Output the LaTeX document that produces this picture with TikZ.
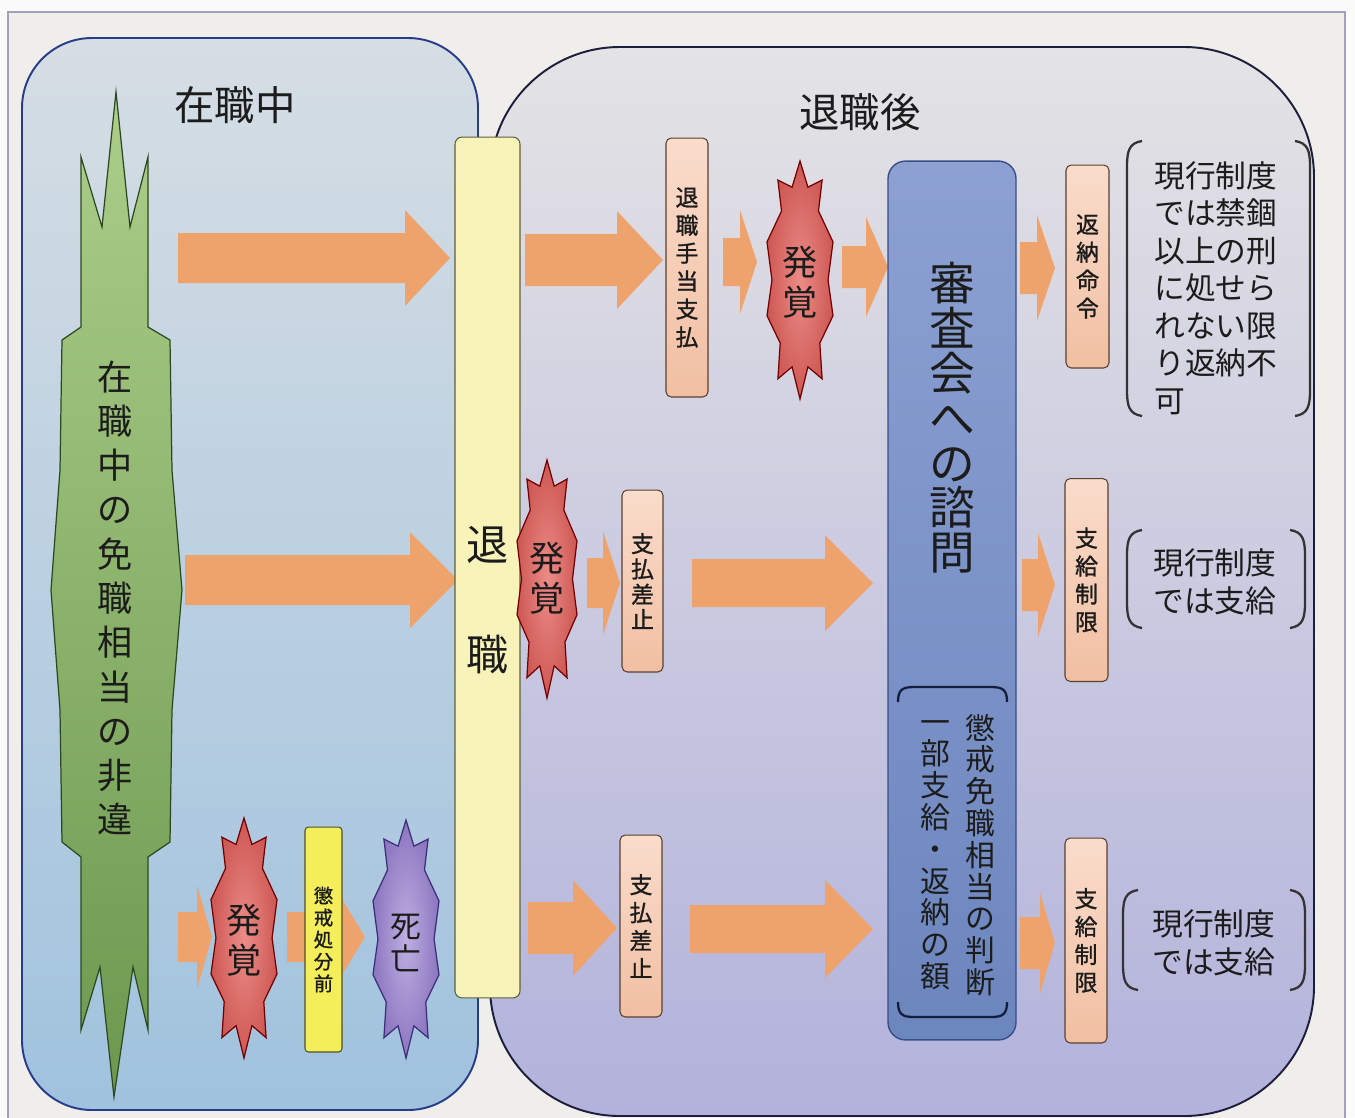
\documentclass[tikz,border=0pt]{standalone}
\usepackage{fontspec}
\setmainfont{Noto Sans CJK JP}
\newfontfamily\jpb[FakeBold=1.2]{Noto Sans CJK JP}
\definecolor{ink}{HTML}{1C1C1C}
\definecolor{paper}{HTML}{F0EEEA}
\definecolor{framec}{HTML}{A59FBF}
\definecolor{arrowc}{HTML}{EFA36C}
\definecolor{peachT}{HTML}{FADCCB}
\definecolor{peachB}{HTML}{F1BFA2}
\definecolor{peachD}{HTML}{5A4030}
\newcommand\fs[2]{\fontsize{#1}{#2}\selectfont}
% block arrow: x1, x2 (tip), yc, shaft half, head half, head start
\newcommand\blockarr[6]{%
  \fill[arrowc] (#1,#3-#4) -- (#6,#3-#4) -- (#6,#3-#5) -- (#2,#3) -- (#6,#3+#5) -- (#6,#3+#4) -- (#1,#3+#4) -- cycle;}
% burst: cx, cy, half width, half height, style
\newcommand\burstshape[5]{%
  \begin{scope}[shift={(#1,#2)},xscale=#3,yscale=#4]
  \path[#5] (0,-1) -- (0.24,-0.78) -- (0.67,-0.84) -- (0.56,-0.58) -- (1,-0.32) -- (0.85,0) -- (1,0.3) -- (0.6,0.53) -- (0.67,0.83) -- (0.24,0.73) -- (0,1) -- (-0.24,0.73) -- (-0.67,0.83) -- (-0.6,0.53) -- (-1,0.3) -- (-0.85,0) -- (-1,-0.32) -- (-0.56,-0.58) -- (-0.67,-0.84) -- (-0.24,-0.78) -- cycle;
  \end{scope}}
% parentheses: x1, x2, y1, y2
\newcommand\parens[4]{%
  \draw[brk] (#1+15,#3) .. controls (#1+2,#3+2) and (#1,#3+10) .. (#1,#3+26) -- (#1,#4-26) .. controls (#1,#4-10) and (#1+2,#4-2) .. (#1+15,#4);
  \draw[brk] (#2-15,#3) .. controls (#2-2,#3+2) and (#2,#3+10) .. (#2,#3+26) -- (#2,#4-26) .. controls (#2,#4-10) and (#2-2,#4-2) .. (#2-15,#4);}
\begin{document}
\begin{tikzpicture}[x=0.02cm,y=-0.02cm,
  vt/.style={align=center,inner sep=0pt,text=ink},
  lt/.style={align=left,inner sep=0pt,text=ink},
  peachbox/.style={draw=peachD,line width=0.6pt,rounded corners=3pt,top color=peachT,bottom color=peachB,inner sep=0pt,align=center,text=ink},
  brk/.style={draw=ink!90,line width=1.3pt},
  redburst/.style={draw=red!45!black,line width=0.7pt,inner color={rgb,255:red,236;green,140;blue,135},outer color={rgb,255:red,205;green,88;blue,84}},
  purpleburst/.style={draw={rgb,255:red,60;green,45;blue,120},line width=0.7pt,inner color={rgb,255:red,190;green,175;blue,225},outer color={rgb,255:red,140;green,118;blue,192}}
]
\useasboundingbox (0,0) rectangle (1355,1117);
\clip (0,0) rectangle (1355,1117);
\fill[white!97!gray] (0,0) rectangle (1355,1117);
% outer frame
\draw[framec,line width=1.6pt,fill=paper] (8,12) rectangle (1345,1140);

% containers
\draw[rounded corners=130*0.02cm,line width=1.1pt,draw={rgb,255:red,30;green,30;blue,60},top color={rgb,255:red,228;green,227;blue,229},bottom color={rgb,255:red,178;green,178;blue,220}] (490,47) rectangle (1314,1116);
\draw[rounded corners=70*0.02cm,line width=1.1pt,draw={rgb,255:red,40;green,60;blue,140},top color={rgb,255:red,214;green,222;blue,228},bottom color={rgb,255:red,160;green,194;blue,222}] (22,38) rectangle (478,1110);

\node[vt,font=\fs{23}{28}] (zaishokuchu) at (235,105) {在職中};
\node[vt,font=\fs{23}{28}] (taishokugo) at (860,112) {退職後};

% green shape
\draw[draw={rgb,255:red,45;green,72;blue,32},line width=0.7pt,top color={rgb,255:red,172;green,206;blue,138},bottom color={rgb,255:red,108;green,152;blue,78}]
 (116,92) -- (130,227) -- (148,157) -- (148,327) -- (170,340) -- (172,470) -- (182,590) -- (172,710) -- (170,842) -- (148,857) -- (148,1030) -- (133,967) -- (114,1097) -- (100,967) -- (81,1030) -- (81,857) -- (62,842) -- (60,710) -- (51,590) -- (60,470) -- (62,340) -- (81,327) -- (81,157) -- (102,227) -- cycle;
\node[vt,font=\fs{20}{25.2}] (hii) at (115,598) {在\\職\\中\\の\\免\\職\\相\\当\\の\\非\\違};

% arrows
\blockarr{178}{450}{258}{25}{48}{405}
\blockarr{185}{458}{580}{25}{48}{410}
\blockarr{178}{212}{937}{25}{52}{197}
\blockarr{287}{365}{937}{25}{46}{337}
\blockarr{525}{663}{260}{26}{49}{617}
\blockarr{723}{757}{262}{24}{52}{740}
\blockarr{842}{888}{267}{21}{50}{866}
\blockarr{1020}{1055}{268}{26}{53}{1037}
\blockarr{587}{620}{583}{25}{52}{603}
\blockarr{692}{873}{583}{24}{48}{825}
\blockarr{1022}{1055}{585}{26}{52}{1038}
\blockarr{528}{617}{928}{26}{48}{573}
\blockarr{690}{873}{929}{24}{49}{825}
\blockarr{1020}{1055}{943}{26}{50}{1040}

% retirement bar
\node[draw={rgb,255:red,95;green,95;blue,60},line width=0.6pt,rounded corners=4pt,fill={rgb,255:red,247;green,243;blue,185},minimum width=1.30cm,minimum height=17.22cm,inner sep=0pt] (bar) at (487.5,567.5) {};
\node[vt,font=\fs{24}{62.4}] (taishoku) at (488,600) {退\\職};

% blue box
\node[draw={rgb,255:red,55;green,78;blue,135},line width=0.8pt,rounded corners=10pt,top color={rgb,255:red,140;green,160;blue,210},bottom color={rgb,255:red,108;green,134;blue,190},minimum width=2.56cm,minimum height=17.58cm,inner sep=0pt] (shinsa) at (952,600.5) {};
\node[vt,font=\fs{26}{25.5}] (shinsatext) at (952,418) {審\\査\\会\\へ\\の\\諮\\問};
\draw[brk,draw={rgb,255:red,20;green,30;blue,60}] (898,702) .. controls (898,690) and (902,687) .. (914,687) -- (991,687) .. controls (1003,687) and (1007,690) .. (1007,702);
\draw[brk,draw={rgb,255:red,20;green,30;blue,60}] (898,1002) .. controls (898,1014) and (902,1017) .. (914,1017) -- (991,1017) .. controls (1003,1017) and (1007,1014) .. (1007,1002);
\node[vt,font=\fs{17}{18.1}] (handan) at (980,855) {懲\\戒\\免\\職\\相\\当\\の\\判\\断};
\node[vt,font=\fs{17}{18.1}] (gaku) at (935,855) {一\\部\\支\\給\\・\\返\\納\\の\\額};

% peach boxes
\node[peachbox,font=\jpb\fs{13}{15.9},minimum width=0.84cm,minimum height=5.18cm] (shiharai) at (687,267.5) {退\\職\\手\\当\\支\\払};
\node[peachbox,font=\jpb\fs{13}{15.9},minimum width=0.86cm,minimum height=4.06cm] (hennou) at (1087.5,266.5) {返\\納\\命\\令};
\node[peachbox,font=\jpb\fs{13}{14.4},minimum width=0.82cm,minimum height=3.64cm] (sashitome1) at (642.5,581) {支\\払\\差\\止};
\node[peachbox,font=\jpb\fs{13}{15.9},minimum width=0.86cm,minimum height=4.06cm] (seigen1) at (1086.5,580) {支\\給\\制\\限};
\node[peachbox,font=\jpb\fs{13}{15.9},minimum width=0.84cm,minimum height=3.64cm] (sashitome2) at (641,926) {支\\払\\差\\止};
\node[peachbox,font=\jpb\fs{13}{15.9},minimum width=0.84cm,minimum height=4.10cm] (seigen2) at (1086,940.5) {支\\給\\制\\限};
\node[draw={rgb,255:red,80;green,80;blue,40},line width=0.6pt,rounded corners=2pt,fill={rgb,255:red,243;green,238;blue,90},minimum width=0.74cm,minimum height=4.5cm,inner sep=0pt,align=center,text=ink,font=\jpb\fs{11}{12.5}] (choukaimae) at (323.5,939.5) {懲\\戒\\処\\分\\前};

% bursts
\burstshape{800}{280}{33}{119}{redburst}
\node[vt,font=\fs{20}{22.7}] (hakkaku1) at (800,282) {発\\覚};
\burstshape{547}{579}{30}{119}{redburst}
\node[vt,font=\fs{20}{22.7}] (hakkaku2) at (547,578) {発\\覚};
\burstshape{244}{938}{33}{120}{redburst}
\node[vt,font=\fs{20}{22.7}] (hakkaku3) at (244,940) {発\\覚};
\burstshape{406}{939}{33}{119}{purpleburst}
\node[vt,font=\fs{17.5}{18.7}] (shibou) at (406,943) {死\\亡};

% right notes
\parens{1127}{1310}{141}{416}
\node[lt,font=\fs{17.5}{21.3},anchor=west] (note1) at (1154,288) {現行制度\\では禁錮\\以上の刑\\に処せら\\れない限\\り返納不\\可};
\parens{1127}{1305}{530}{628}
\node[lt,font=\fs{17.5}{21.3},anchor=west] (note2) at (1153,582) {現行制度\\では支給};
\parens{1123}{1305}{890}{990}
\node[lt,font=\fs{17.5}{21.3},anchor=west] (note3) at (1152,943) {現行制度\\では支給};
\end{tikzpicture}
\end{document}
